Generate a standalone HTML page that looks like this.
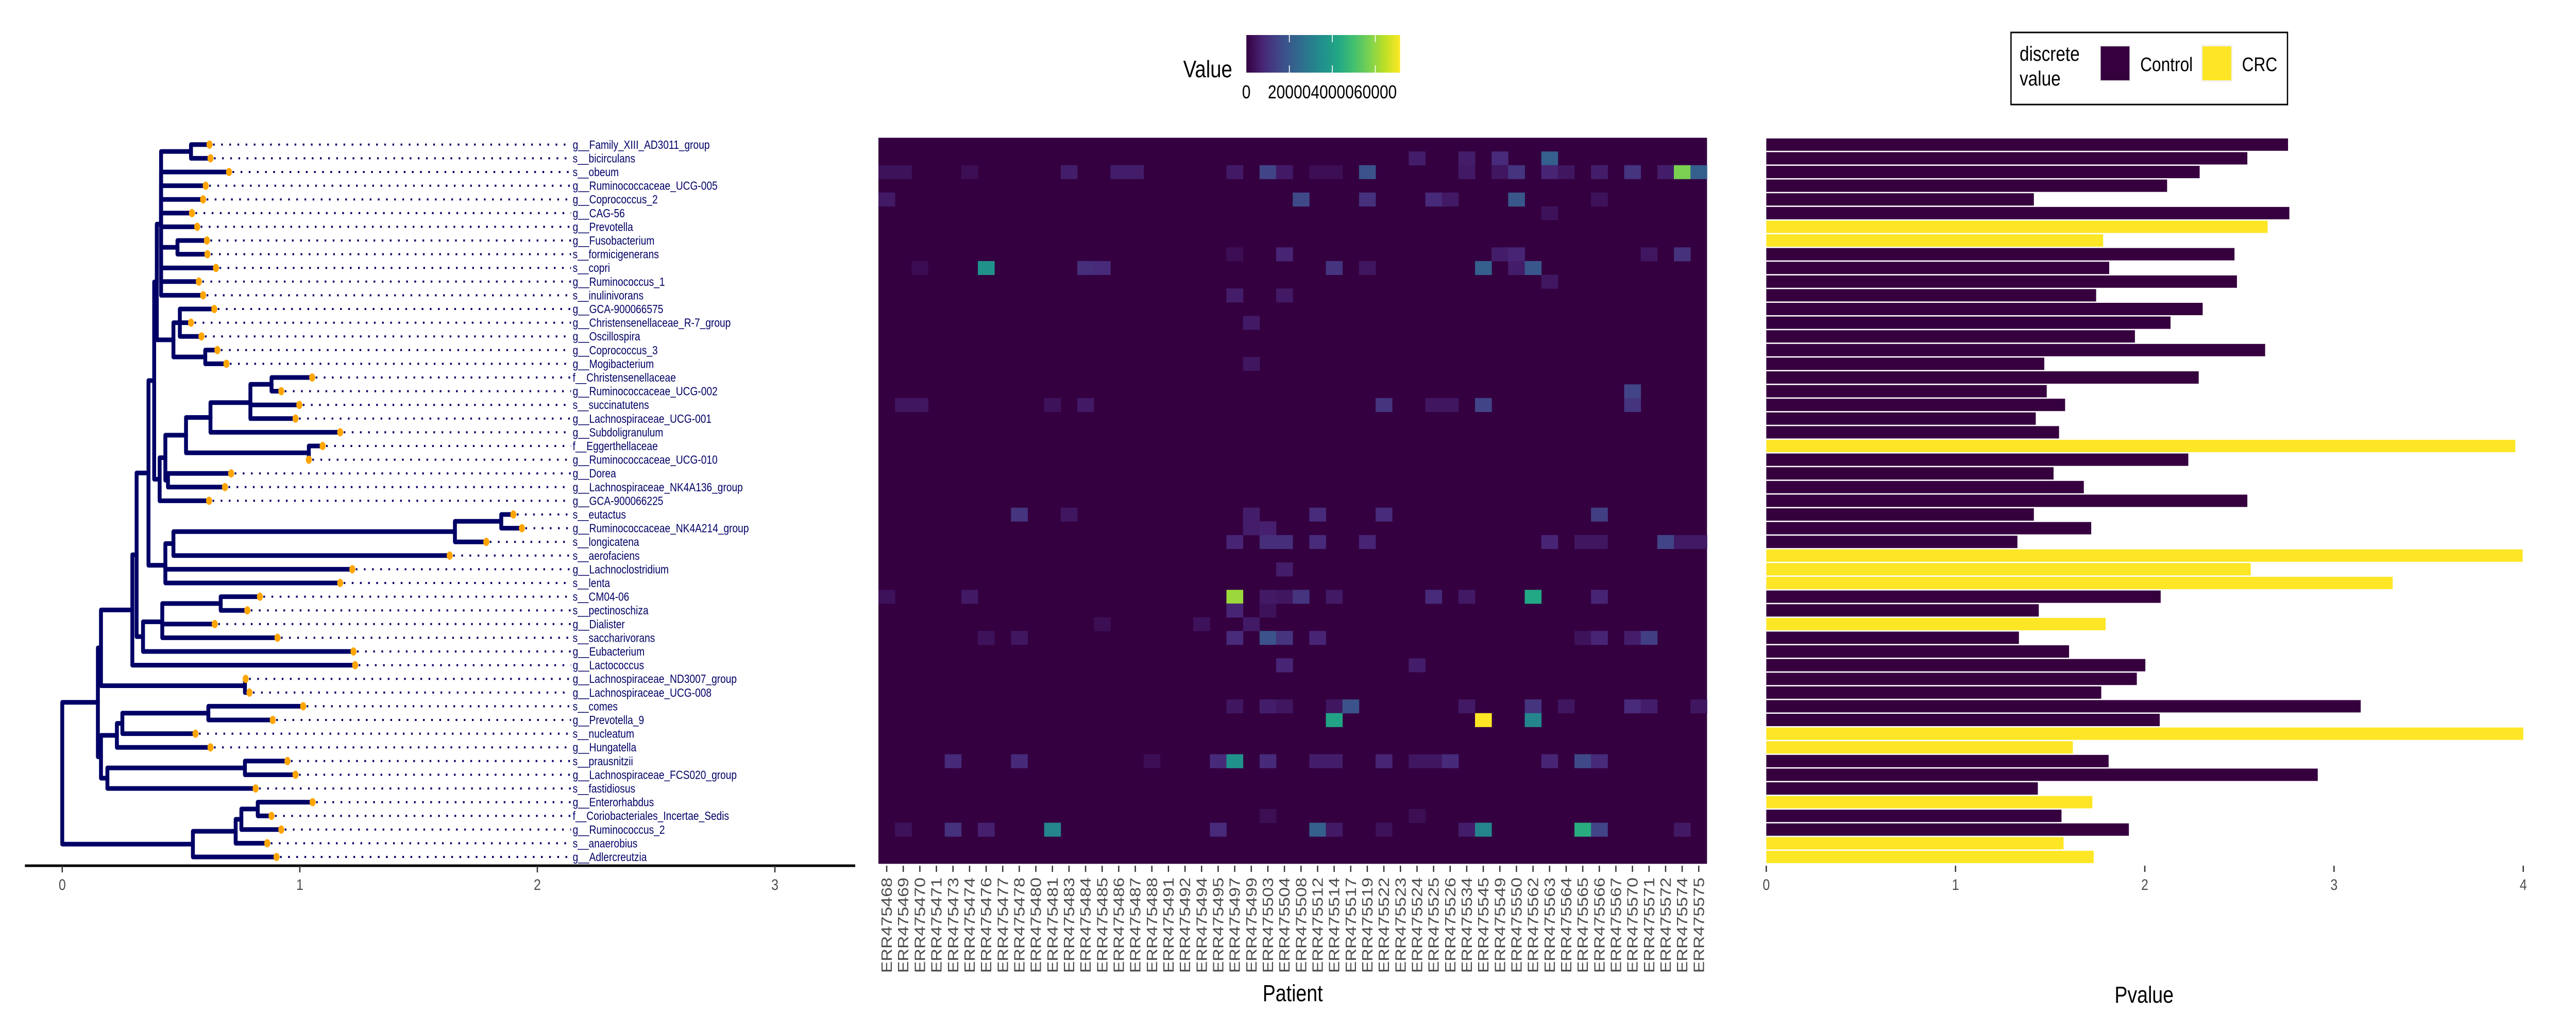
<!DOCTYPE html>
<html><head><meta charset="utf-8"><style>
html,body{margin:0;padding:0;background:#fff;width:100%;height:100%;overflow:hidden;}
svg{display:block;font-family:"Liberation Sans",sans-serif;width:100vw;height:100vh;}
</style></head><body>
<svg id="fig" viewBox="0 0 6000 2000" preserveAspectRatio="none" xmlns="http://www.w3.org/2000/svg">
<rect width="6000" height="2000" fill="#fff"/>
<g id="tree"></g>
<g id="heat"></g>
<g id="bars"></g>
<g id="legends">
  <defs><linearGradient id="vir" x1="0" x2="1" y1="0" y2="0">
    <stop offset="0" stop-color="#340040"/><stop offset="0.1" stop-color="#482475"/><stop offset="0.2" stop-color="#414487"/><stop offset="0.3" stop-color="#355F8D"/><stop offset="0.4" stop-color="#2A788E"/><stop offset="0.5" stop-color="#21918C"/><stop offset="0.6" stop-color="#22A884"/><stop offset="0.7" stop-color="#44BF70"/><stop offset="0.8" stop-color="#7AD151"/><stop offset="0.9" stop-color="#BDDF26"/><stop offset="1" stop-color="#FDE725"/>
  </linearGradient></defs>
  <text x="2756" y="150" font-size="46" fill="#000">Value</text>
  <rect x="2903" y="68" width="358" height="73" fill="url(#vir)"/>
  <g id="cbticks"></g>
  <rect x="4684" y="63" width="644" height="140" fill="#fff" stroke="#000" stroke-width="3"/>
  <text x="4704" y="118" font-size="40" fill="#000">discrete</text>
  <text x="4704" y="166" font-size="40" fill="#000">value</text>
  <rect x="4890" y="87" width="73" height="72" fill="#f2f2f2"/>
  <rect x="4893" y="90" width="67" height="66" fill="#36003F"/>
  <text x="4985" y="138" font-size="38" fill="#000">Control</text>
  <rect x="5127" y="87" width="73" height="72" fill="#f2f2f2"/>
  <rect x="5130" y="90" width="67" height="66" fill="#FDE625"/>
  <text x="5222" y="138" font-size="38" fill="#000">CRC</text>
</g>
</svg>
<script>
// ---------- shared data ----------
const taxa = ["g__Family_XIII_AD3011_group","s__bicirculans","s__obeum","g__Ruminococcaceae_UCG-005","g__Coprococcus_2","g__CAG-56","g__Prevotella","g__Fusobacterium","s__formicigenerans","s__copri","g__Ruminococcus_1","s__inulinivorans","g__GCA-900066575","g__Christensenellaceae_R-7_group","g__Oscillospira","g__Coprococcus_3","g__Mogibacterium","f__Christensenellaceae","g__Ruminococcaceae_UCG-002","s__succinatutens","g__Lachnospiraceae_UCG-001","g__Subdoligranulum","f__Eggerthellaceae","g__Ruminococcaceae_UCG-010","g__Dorea","g__Lachnospiraceae_NK4A136_group","g__GCA-900066225","s__eutactus","g__Ruminococcaceae_NK4A214_group","s__longicatena","s__aerofaciens","g__Lachnoclostridium","s__lenta","s__CM04-06","s__pectinoschiza","g__Dialister","s__saccharivorans","g__Eubacterium","g__Lactococcus","g__Lachnospiraceae_ND3007_group","g__Lachnospiraceae_UCG-008","s__comes","g__Prevotella_9","s__nucleatum","g__Hungatella","s__prausnitzii","g__Lachnospiraceae_FCS020_group","s__fastidiosus","g__Enterorhabdus","f__Coriobacteriales_Incertae_Sedis","g__Ruminococcus_2","s__anaerobius","g__Adlercreutzia"];
const tipDepth = [0.620,0.624,0.702,0.604,0.593,0.546,0.568,0.609,0.611,0.647,0.575,0.593,0.640,0.542,0.586,0.653,0.691,1.052,0.922,0.998,0.982,1.170,1.096,1.038,0.711,0.685,0.618,1.899,1.935,1.785,1.631,1.221,1.170,0.832,0.779,0.642,0.906,1.226,1.233,0.772,0.788,1.014,0.886,0.561,0.624,0.948,0.982,0.814,1.054,0.881,0.922,0.863,0.902];
const treeTicks = [0,1,2,3];
const patients = ["ERR475468","ERR475469","ERR475470","ERR475471","ERR475473","ERR475474","ERR475476","ERR475477","ERR475478","ERR475480","ERR475481","ERR475483","ERR475484","ERR475485","ERR475486","ERR475487","ERR475488","ERR475491","ERR475492","ERR475494","ERR475495","ERR475497","ERR475499","ERR475503","ERR475504","ERR475508","ERR475512","ERR475514","ERR475517","ERR475519","ERR475522","ERR475523","ERR475524","ERR475525","ERR475526","ERR475534","ERR475545","ERR475549","ERR475550","ERR475562","ERR475563","ERR475564","ERR475565","ERR475566","ERR475567","ERR475570","ERR475571","ERR475572","ERR475574","ERR475575"];
const cellRow = [2,2,2,2,2,2,2,2,2,4,4,8,8,9,9,9,9,11,11,13,16,19,19,19,19,27,27,27,28,28,29,29,29,31,33,33,33,33,33,33,34,34,35,35,35,36,36,36,36,36,38,41,41,41,45,45,45,45,45,45,49,50,50,50,50,50,
1,1,1,1,2,2,2,2,2,2,2,2,2,2,2,2,2,4,4,4,4,4,5,8,8,8,8,9,9,9,9,9,10,18,19,19,19,19,19,27,27,27,29,29,29,29,29,29,29,29,33,33,33,33,33,36,36,36,36,36,38,41,41,41,41,41,41,41,41,42,42,42,45,45,45,45,45,45,45,45,45,49,50,50,50,50,50,50,50,50];
const cellCol = [0,1,5,11,14,15,21,23,24,0,25,21,24,2,6,12,13,21,24,22,22,1,2,10,12,8,11,22,22,23,21,23,24,24,0,5,21,23,24,25,21,23,13,19,22,6,8,21,23,24,24,21,23,24,4,8,16,20,21,23,23,1,4,6,10,20,
32,35,37,40,26,27,29,35,37,38,40,41,43,45,47,48,49,29,33,34,38,43,40,37,38,46,48,27,29,36,38,39,40,45,30,33,34,36,45,26,30,43,26,29,40,42,43,47,48,49,27,33,35,39,43,26,42,43,45,46,32,27,28,35,39,41,45,46,49,27,36,39,26,27,30,32,33,34,40,42,43,32,26,27,30,35,36,42,43,48];
const cellVal = [3600,3600,2900,5700,5700,5700,5000,14300,5000,5000,15700,2900,7200,2100,35800,9300,8600,5700,5000,5000,4300,4300,4300,3600,5000,10700,4300,5700,5700,6400,7200,9300,9300,5700,3600,5000,60800,5000,4300,10700,7200,3600,2900,3600,5000,3600,4300,8600,17900,10700,7200,4300,5700,4300,8600,8600,2900,8600,35800,8600,2900,3600,10000,6400,32200,8600,
5700,5700,8600,21500,2900,2900,17900,5000,4300,10700,7200,4300,5700,10700,5700,57200,21500,10000,8600,5000,19300,3600,3600,5700,7200,4300,10000,10700,4300,21500,5700,19300,4300,14300,10700,4300,4300,14300,10700,8600,8600,12900,8600,7200,7200,4300,4300,14300,5000,5000,5000,8600,5000,42900,7200,7200,3600,7200,5700,12900,5700,4300,17900,5000,10700,4300,8600,5700,4300,41500,71500,32200,5700,5700,7200,4300,4300,8600,7200,15700,8600,2900,21500,5000,3600,5700,32200,44300,14300,5000];
const valueMax = 71500;
const cbTicks = [0,20000,40000,60000];
const pvalue = [2.757,2.542,2.29,2.118,1.414,2.764,2.649,1.78,2.474,1.812,2.487,1.743,2.306,2.136,1.948,2.636,1.469,2.285,1.482,1.579,1.424,1.547,3.958,2.23,1.518,1.678,2.542,1.414,1.717,1.327,3.997,2.56,3.31,2.084,1.44,1.793,1.335,1.6,2.003,1.958,1.77,3.141,2.079,4.0,1.62,1.809,2.914,1.435,1.723,1.56,1.916,1.571,1.73];
const group = ["Control","Control","Control","Control","Control","Control","CRC","CRC","Control","Control","Control","Control","Control","Control","Control","Control","Control","Control","Control","Control","Control","Control","CRC","Control","Control","Control","Control","Control","Control","Control","CRC","CRC","CRC","Control","Control","CRC","Control","Control","Control","Control","Control","Control","Control","CRC","CRC","Control","Control","Control","CRC","Control","Control","CRC","CRC"];
const barTicks = [0,1,2,3,4];

// ---------- layout ----------
const NS = "http://www.w3.org/2000/svg";
const rowTop = 267.5, rowH = 26.6;
const rowY = i => rowTop + rowH*(i+0.5);
const treeX = d => 145 + 553.3*d;
const heatX0 = 2046, colW = 38.6;
const barX = v => 4114 + 440.8*v;
function mk(tag, attrs, parent){const e=document.createElementNS(NS,tag);for(const k in attrs)e.setAttribute(k,attrs[k]);parent.appendChild(e);return e;}

// ---------- tree ----------
function N(d,...c){return {d:d,c:c};}
const Na = N(0.416, N(0.542,0,1),2,3,4,5,6, N(0.485,7,8),9,10,11);
const Nb = N(0.468, N(0.495,12,13,14), N(0.602,15,16));
const X = N(0.521, N(0.624, N(0.792, N(0.881,17,18),19,20),21), N(1.038,22,23));
const T = N(0.387, N(0.398,Na,Nb), N(0.41, N(0.434, X, N(0.445,24,25)),26));
const R = N(0.434, N(0.468, N(1.653, N(1.848,27,28),29),30),31,32);
const M34 = N(0.34, N(0.421, N(0.667,33,34),35,36),37);
const A1 = N(0.163, N(0.295, N(0.313, N(0.363,T,R), M34),38), N(0.769,39,40));
const A2 = N(0.163, N(0.23, N(0.253, N(0.615,41,42),43),44), N(0.19, N(0.769,45,46),47));
const B = N(0.55, N(0.73, N(0.754, N(0.823,48,49),50),51),52);
const root = N(0, N(0.15,A1,A2), B);

const tg = document.getElementById('tree');
function posOf(n){ if(typeof n==='number') return {x:treeX(tipDepth[n]), y:rowY(n)};
  const ys=n.c.map(k=>posOf(k).y); return {x:treeX(n.d), y:ys.reduce((a,b)=>a+b,0)/ys.length}; }
function drawNode(n){
  if(typeof n==='number') return;
  const p=posOf(n);
  n.c.forEach(k=>{
    const q=posOf(k);
    const e=mk('path',{d:`M${p.x},${p.y} L${p.x},${q.y} L${q.x},${q.y}`,fill:'none',stroke:'#000066','stroke-width':9,'stroke-linejoin':'round','stroke-linecap':'round'},tg);
    
    
    drawNode(k);
  });
}
drawNode(root);
taxa.forEach((t,i)=>{
  const x=treeX(tipDepth[i]), y=rowY(i);
  const dl=mk('line',{x1:x+8,y1:y,x2:1330,y2:y,stroke:'#000066','stroke-width':4,'stroke-dasharray':'4 15'},tg);
  
  
  const c=mk('ellipse',{cx:x,cy:y,rx:7,ry:8,fill:'#FFA500'},tg);
  
  
  const tx=mk('text',{x:1334,y:y+8,'font-size':23,fill:'#000066'},tg);
  tx.textContent=t;
  
  
});
const ax=mk('line',{x1:58,y1:1681,x2:1992,y2:1681,stroke:'#000','stroke-width':5},tg);


treeTicks.forEach(v=>{
  const x=treeX(v);
  const t=mk('line',{x1:x,y1:1681,x2:x,y2:1694,stroke:'#333','stroke-width':3},tg);
  
  
  const l=mk('text',{x:x,y:1728,'font-size':30,fill:'#4d4d4d','text-anchor':'middle'},tg);
  l.textContent=String(v);
  
  
});

// ---------- heatmap ----------
const hg=document.getElementById('heat');
const vir=["#340040","#482475","#414487","#355F8D","#2A788E","#21918C","#22A884","#44BF70","#7AD151","#BDDF26","#FDE725"];
function hex(h){return [1,3,5].map(i=>parseInt(h.substr(i,2),16));}
function colorOf(v){const f=Math.max(0,Math.min(1,v/valueMax))*10;const i=Math.min(9,Math.floor(f));const t=f-i;
  const a=hex(vir[i]),b=hex(vir[i+1]);return 'rgb('+a.map((c,k)=>Math.round(c+(b[k]-c)*t)).join(',')+')';}
const bg=mk('rect',{x:heatX0,y:rowTop,width:colW*patients.length,height:rowH*taxa.length,fill:vir[0]},hg);


cellVal.forEach((v,k)=>{
  const r=mk('rect',{x:heatX0+colW*cellCol[k],y:rowTop+rowH*cellRow[k],width:colW+0.5,height:rowH+0.5,fill:colorOf(v)},hg);
  
  
});
patients.forEach((p,j)=>{
  const x=heatX0+colW*(j+0.5);
  const t=mk('line',{x1:x,y1:1681,x2:x,y2:1693,stroke:'#333','stroke-width':3},hg);
  
  
  const l=mk('text',{x:0,y:0,'font-size':34,fill:'#4d4d4d','text-anchor':'end',transform:`translate(${x+12},1704) rotate(-90)`},hg);
  l.textContent=p;
  
  
});
const ht=mk('text',{x:3011,y:1944,'font-size':45,fill:'#000','text-anchor':'middle'},hg);
ht.textContent='Patient';



// colorbar ticks
const cg=document.getElementById('cbticks');
cbTicks.forEach(v=>{
  const x=2903+358*v/valueMax;
  if(v>0){
    const a=mk('line',{x1:x,y1:68,x2:x,y2:82,stroke:'#fff','stroke-width':2},cg);
    
    
    const b=mk('line',{x1:x,y1:127,x2:x,y2:141,stroke:'#fff','stroke-width':2},cg);
    
    
  }
  const l=mk('text',{x:x,y:191,'font-size':36,fill:'#000','text-anchor':'middle'},cg);
  l.textContent=String(v);
  
  
});

// ---------- bars ----------
const bgp=document.getElementById('bars');
pvalue.forEach((v,i)=>{
  const y=rowY(i);
  const r=mk('rect',{x:barX(0),y:y-12,width:barX(v)-barX(0),height:24,fill:group[i]==='CRC'?'#FDE625':'#36003F'},bgp);
  
  
});
barTicks.forEach(v=>{
  const x=barX(v);
  const t=mk('line',{x1:x,y1:1681,x2:x,y2:1693,stroke:'#333','stroke-width':3},bgp);
  
  
  const l=mk('text',{x:x,y:1728,'font-size':30,fill:'#4d4d4d','text-anchor':'middle'},bgp);
  l.textContent=String(v);
  
  
});
const bt=mk('text',{x:4994,y:1947,'font-size':45,fill:'#000','text-anchor':'middle'},bgp);
bt.textContent='Pvalue';


</script>
</body></html>
